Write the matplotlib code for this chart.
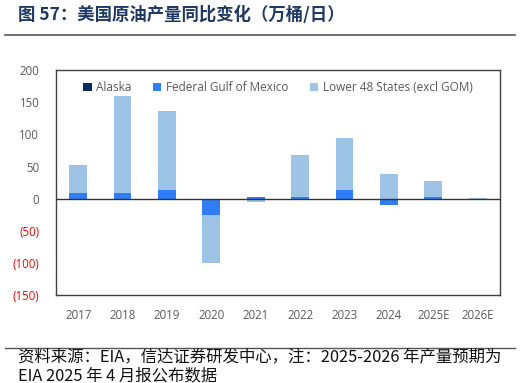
import matplotlib
matplotlib.use("Agg")
import matplotlib.pyplot as plt
from matplotlib.patches import Patch
import numpy as np

plt.rcParams['font.family'] = ['Open Sans', 'Noto Sans CJK SC', 'DejaVu Sans']

categories = ["2017", "2018", "2019", "2020", "2021", "2022", "2023", "2024", "2025E", "2026E"]
alaska = [-1, -1.5, -1, -1.5, -1, 0, -1.5, 0, 0, 0]
gom = [8, 8, 13, -24, 3, 2, 13, -10, 3, 0]
lower48 = [44, 152, 123, -74, -5, 66, 82, 38, 25, 1]

series = [("Alaska", alaska, "#0B2A5E"),
          ("Federal Gulf of Mexico", gom, "#2F7EF7"),
          ("Lower 48 States (excl GOM)", lower48, "#9DC3E6")]

fig = plt.figure(figsize=(5.21, 3.83), dpi=100)
ax = fig.add_axes([0.1075, 0.2298, 0.852, 0.587])

x = np.arange(len(categories))
pos_base = np.zeros(len(categories))
neg_base = np.zeros(len(categories))
for name, vals, col in series:
    v = np.array(vals, dtype=float)
    bottoms = np.where(v >= 0, pos_base, neg_base)
    ax.bar(x, v, bottom=bottoms, width=0.4, color=col, label=name, zorder=2)
    pos_base = pos_base + np.where(v >= 0, v, 0)
    neg_base = neg_base + np.where(v < 0, v, 0)

ax.axhline(0, color="#333333", lw=1.0, zorder=3)
ax.set_xlim(-0.5, len(categories) - 0.5)
ax.set_ylim(-150, 200)
yt = [200, 150, 100, 50, 0, -50, -100, -150]
ax.set_yticks(yt)
ax.set_yticklabels([str(v) if v >= 0 else "(%d)" % -v for v in yt], fontsize=8.3)
for lab, v in zip(ax.get_yticklabels(), yt):
    lab.set_color("#FF0000" if v < 0 else "#595959")
ax.set_xticks(x)
ax.set_xticklabels(categories, fontsize=8.3, color="#595959")
ax.tick_params(length=0, pad=12)
ax.tick_params(axis='x', pad=10)
for s in ax.spines.values():
    s.set_color("#404040")
    s.set_linewidth(1.0)

handles = [Patch(facecolor=c, edgecolor='none') for _, _, c in series]
ax.legend(handles, [n for n, _, _ in series], ncol=3, loc="upper center",
          bbox_to_anchor=(0.5, 1.0), frameon=False, fontsize=8.5,
          handlelength=0.7, handleheight=0.7, handletextpad=0.4,
          columnspacing=1.8, labelcolor="#595959")

fig.text(18 / 521, 1 - 15 / 383, "图 57：美国原油产量同比变化（万桶/日）",
         fontsize=12.5, fontweight="bold", color="#1F3864", va="center",
         family=['Noto Sans CJK SC', 'DejaVu Sans'])
fig.add_artist(plt.Line2D([5 / 521, 515 / 521], [1 - 35 / 383] * 2, color="#555555", lw=1.2))
fig.add_artist(plt.Line2D([5 / 521, 515 / 521], [1 - 348 / 383] * 2, color="#555555", lw=1.0))
fig.text(18 / 521, 1 - 358 / 383, "资料来源：EIA，信达证券研发中心，注：2025-2026 年产量预期为",
         fontsize=11.8, color="#111111", va="center", style="italic",
         family=['Noto Sans CJK SC', 'DejaVu Sans'])
fig.text(18 / 521, 1 - 376 / 383, "EIA 2025 年 4 月报公布数据",
         fontsize=11.8, color="#111111", va="center", style="italic",
         family=['Noto Sans CJK SC', 'DejaVu Sans'])

fig.savefig("out.png", dpi=100)
